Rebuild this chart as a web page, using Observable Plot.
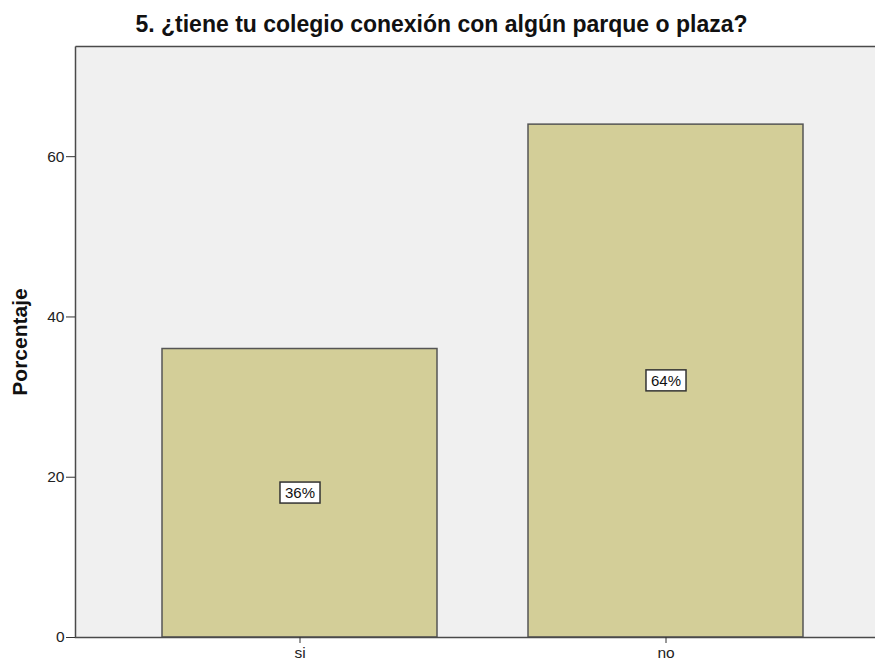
<!DOCTYPE html>
<html>
<head>
<meta charset="utf-8">
<script src="https://cdn.jsdelivr.net/npm/d3@7"></script>
<script src="https://cdn.jsdelivr.net/npm/@observablehq/plot@0.6"></script>
<style>
  html, body { margin: 0; padding: 0; background: #fff; overflow: hidden; }
  #chart svg { display: block; }
</style>
</head>
<body>
<div id="chart"></div>
<script>
const title = "5. ¿tiene tu colegio conexión con algún parque o plaza?";
const yLabel = "Porcentaje";
const categories = ["si", "no"];
const percentages = [36, 64];
const yTicks = [0, 20, 40, 60];

const data = categories.map((c, i) => ({category: c, value: percentages[i]}));
const font = "'Liberation Sans', Arial, sans-serif";

const W = 875, H = 662, mT = 46, mB = 25, mL = 75, mR = 0;
const fw = W - mL - mR, fh = H - mT - mB;

const chart = Plot.plot({
  width: W,
  height: H,
  marginTop: mT,
  marginBottom: mB,
  marginLeft: mL,
  marginRight: mR,
  style: {fontFamily: font, fontSize: "15px", color: "#222", background: "#fff"},
  x: {type: "band", domain: categories, range: [161, 802.5], paddingInner: 0.25, paddingOuter: 0, label: null},
  y: {domain: [0, 73.75], label: null},
  marks: [
    Plot.frame({fill: "#f0f0f0", stroke: "#f0f0f0", strokeOpacity: 0}),
    Plot.barY(data, {x: "category", y: "value", fill: "#d3ce98", stroke: "#555", strokeWidth: 1.5}),
    Plot.frame({fill: "none", stroke: "#4a4a4a", strokeWidth: 1.5, strokeDasharray: `${fw} ${fh} ${fw + fh} 0`}),
    Plot.axisY({ticks: yTicks, tickSize: 9, tickPadding: 2, tickFormat: d => String(d), fontSize: 15.5, label: null, stroke: "#333"}),
    Plot.axisX({tickSize: 6, tickPadding: 3, fontSize: 15.5, label: null, stroke: "#333"}),
    Plot.text(data, {x: "category", y: d => d.value / 2, text: d => d.value + "%", fontSize: 15, fill: "#111"}),
    Plot.text([title], {frameAnchor: "top", dy: -22, dx: -34, fontSize: 23, fontWeight: "bold", fill: "#111", lineAnchor: "middle"}),
    Plot.text([yLabel], {frameAnchor: "left", rotate: -90, dx: -55, textAnchor: "middle", lineAnchor: "middle", fontSize: 21, fontWeight: "bold", fill: "#111"})
  ]
});

document.getElementById("chart").appendChild(chart);

chart.querySelectorAll("text").forEach(t => {
  if (!/^\d+%$/.test(t.textContent.trim())) return;
  const bb = t.getBBox();
  const r = document.createElementNS("http://www.w3.org/2000/svg", "rect");
  r.setAttribute("x", bb.x - 5);
  r.setAttribute("y", bb.y - 2);
  r.setAttribute("width", bb.width + 10);
  r.setAttribute("height", bb.height + 4);
  r.setAttribute("fill", "#fff");
  r.setAttribute("stroke", "#333");
  r.setAttribute("stroke-width", "1.5");
  const tr = t.getAttribute("transform");
  if (tr) r.setAttribute("transform", tr);
  t.parentNode.insertBefore(r, t);
});
</script>
</body>
</html>
